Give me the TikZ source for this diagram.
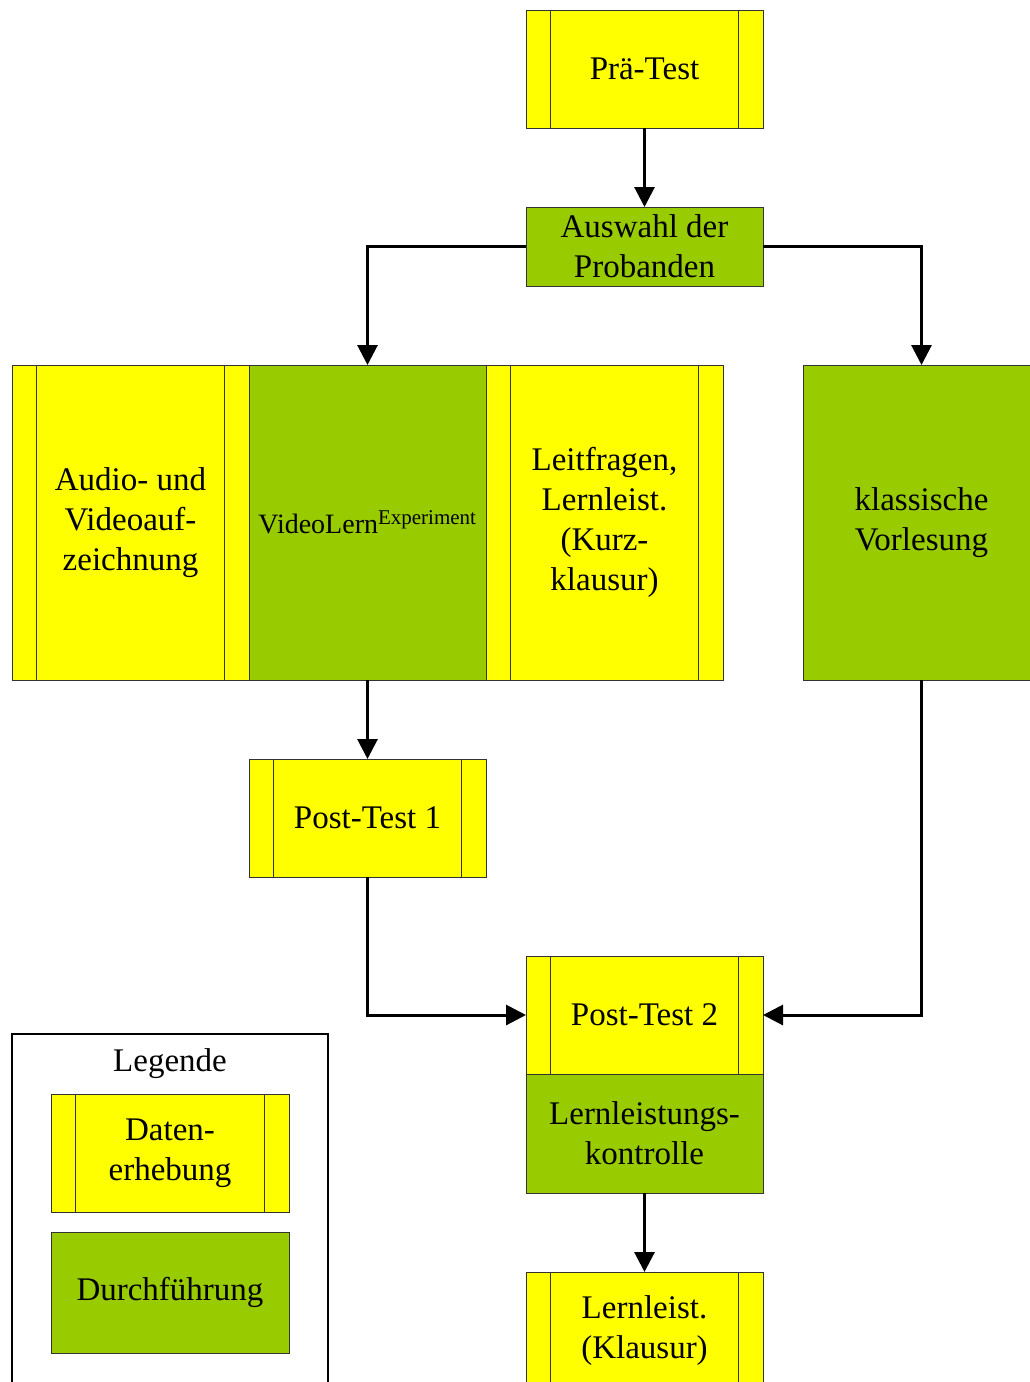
\documentclass[tikz,border=0pt]{standalone}
\usepackage{fontspec}
\setmainfont{Liberation Serif}
\usetikzlibrary{arrows.meta}
\definecolor{datyellow}{HTML}{FFFF00}
\definecolor{rungreen}{HTML}{99CC00}
\definecolor{edge}{HTML}{333333}
\begin{document}
\begin{tikzpicture}[x=1pt,y=-1pt,
  base/.style={draw=edge,line width=0.9pt,inner sep=0pt,outer sep=0pt,
    minimum width=237pt,align=center,
    font=\fontsize{33}{40}\selectfont},
  databox/.style={base,fill=datyellow,minimum height=118pt,
    path picture={
      \draw[edge,line width=0.8pt]
        ([xshift=24.5pt]path picture bounding box.north west) --
        ([xshift=24.5pt]path picture bounding box.south west)
        ([xshift=-24.5pt]path picture bounding box.north east) --
        ([xshift=-24.5pt]path picture bounding box.south east);}},
  runbox/.style={base,fill=rungreen},
  flow/.style={line width=3pt,-{Triangle[length=20pt,width=20pt]}}]
\useasboundingbox (0,0) rectangle (1030,1382);
\clip (0,0) rectangle (1030,1382);

% main flow
\node[databox] (pre) at (644.5,69) {Prä-Test};
\node[runbox,minimum height=79pt] (sel) at (644.5,246.5) {Auswahl der\\Probanden};

\node[databox,minimum height=315pt] (rec) at (130.5,522.5) {Audio- und\\Videoauf-\\zeichnung};
\node[runbox,minimum height=315pt] (vle) at (367.5,522.5)
  {\fontsize{28}{34}\selectfont VideoLern\textsuperscript{\fontsize{21}{24}\selectfont Experiment}};
\node[databox,minimum height=315pt] (lf) at (604.5,522.5) {Leitfragen,\\Lernleist.\\(Kurz-\\klausur)};
\node[runbox,minimum height=315pt] (lec) at (921.5,522.5) {klassische\\Vorlesung};

\node[databox] (pt1) at (367.5,818) {Post-Test 1};
\node[databox] (pt2) at (644.5,1015) {Post-Test 2};
\node[runbox,minimum height=119pt] (ctl) at (644.5,1133.5) {Lernleistungs-\\kontrolle};
\node[databox] (exam) at (644.5,1331) {Lernleist.\\(Klausur)};

% connectors
\draw[flow] (pre.south) -- (sel.north);
\draw[flow] (sel.west) -| (vle.north);
\draw[flow] (sel.east) -| (lec.north);
\draw[flow] (vle.south) -- (pt1.north);
\draw[flow] (pt1.south) |- (pt2.west);
\draw[flow] (lec.south) |- (pt2.east);
\draw[flow] (ctl.south) -- (exam.north);

% legend
\node[draw=black,line width=2pt,minimum width=316pt,minimum height=390pt,
  inner sep=0pt] (legend) at (170,1229) {};
\node[font=\fontsize{33}{40}\selectfont] (legtitle) at (170,1064) {Legende};
\node[databox,minimum width=238pt] (legdat) at (170,1153) {Daten-\\erhebung};
\node[runbox,minimum width=238pt,minimum height=121pt] (legrun) at (170,1292.5) {Durchführung};
\end{tikzpicture}
\end{document}
